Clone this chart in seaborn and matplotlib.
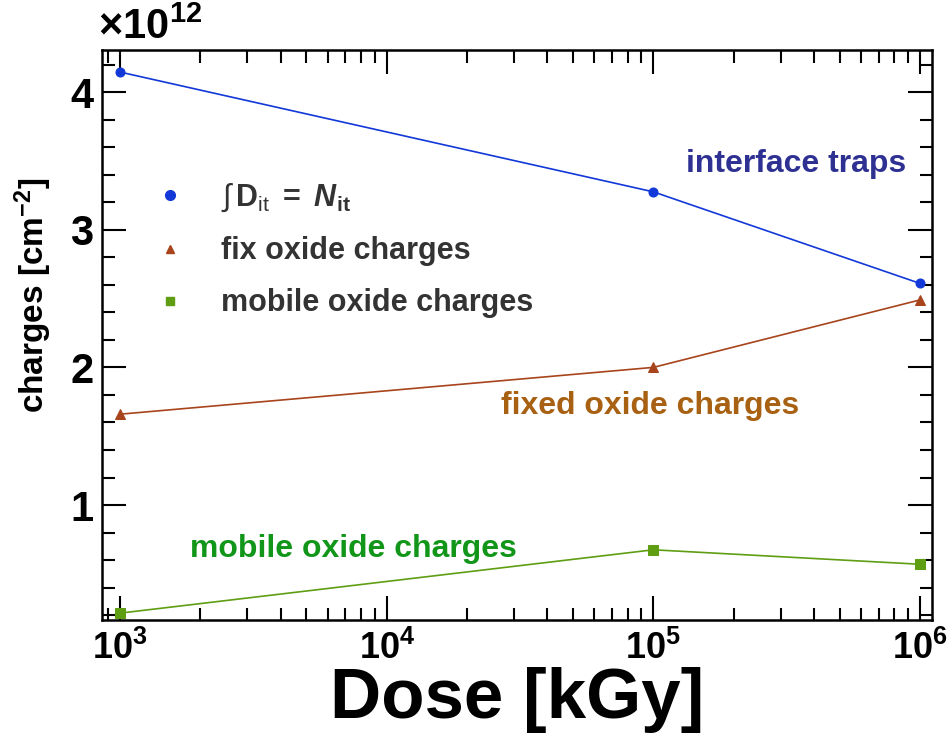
import numpy as np
import pandas as pd
import seaborn as sns
import matplotlib
matplotlib.use("Agg")
import matplotlib.pyplot as plt
from matplotlib.lines import Line2D
from matplotlib.ticker import FixedLocator, MultipleLocator, NullFormatter

# ---- data ----
dose = [1e3, 1e5, 1e6]
interface_traps = [4.145, 3.275, 2.61]
fixed_oxide = [1.66, 2.00, 2.49]
mobile_oxide = [0.215, 0.675, 0.57]

x_ticks = [1e3, 1e4, 1e5, 1e6]
x_tick_labels = [r"$\mathbf{10^{3}}$", r"$\mathbf{10^{4}}$", r"$\mathbf{10^{5}}$", r"$\mathbf{10^{6}}$"]
y_ticks = [1, 2, 3, 4]
y_tick_labels = ["1", "2", "3", "4"]

sns.set_theme(style="ticks")
plt.rcParams["font.family"] = ["Liberation Sans", "DejaVu Sans"]
plt.rcParams["mathtext.fontset"] = "custom"
plt.rcParams["mathtext.rm"] = "Liberation Sans"
plt.rcParams["mathtext.it"] = "Liberation Sans:italic"
plt.rcParams["mathtext.bf"] = "Liberation Sans:bold"
plt.rcParams["mathtext.bfit"] = "Liberation Sans:bold:italic"
plt.rcParams["text.color"] = "black"
plt.rcParams["axes.labelcolor"] = "black"
plt.rcParams["xtick.color"] = "black"
plt.rcParams["ytick.color"] = "black"

c_blue = "#1238d8"
c_brown = "#a8441c"
c_green = "#5f9e12"

fig = plt.figure(figsize=(9.48, 7.47), dpi=100)
ax = fig.add_axes([0.1076, 0.170, 0.8755, 0.763])

df = pd.DataFrame({
    "dose": dose * 3,
    "value": interface_traps + fixed_oxide + mobile_oxide,
    "series": ["it"] * 3 + ["fix"] * 3 + ["mob"] * 3,
})

specs = [("it", c_blue, "o", 6.5), ("fix", c_brown, "^", 6.5), ("mob", c_green, "s", 6.5)]
for key, col, mk, ms in specs:
    sub = df[df["series"] == key]
    sns.lineplot(data=sub, x="dose", y="value", ax=ax, color=col, marker=mk,
                 markersize=ms, markeredgecolor=col, linewidth=1.2, legend=False)

ax.set_xscale("log")
ax.set_xlim(10 ** 2.932, 10 ** 6.045)
ax.set_ylim(0.165, 4.305)

ax.set_xticks(x_ticks)
ax.set_xticklabels(x_tick_labels)
ax.xaxis.set_minor_locator(FixedLocator([m * 10 ** k for k in range(2, 7) for m in range(2, 10)]))
ax.xaxis.set_minor_formatter(NullFormatter())
ax.set_yticks(y_ticks)
ax.set_yticklabels(y_tick_labels)
ax.yaxis.set_minor_locator(MultipleLocator(0.2))

ax.tick_params(axis="both", which="major", direction="in", length=17, width=1.5,
               top=True, right=True)
ax.tick_params(axis="both", which="minor", direction="in", length=9, width=1.5,
               top=True, right=True)
ax.tick_params(axis="x", which="major", labelsize=26, pad=8)
ax.tick_params(axis="y", which="major", labelsize=30, pad=6)
for lab in ax.get_yticklabels():
    lab.set_fontweight("bold")
for s in ax.spines.values():
    s.set_linewidth(1.8)
    s.set_color("black")

ax.set_xlabel("Dose [kGy]", fontsize=51, fontweight="bold", labelpad=0)
ax.set_ylabel(r"charges [cm$^{\mathbf{-2}}$]", fontsize=24, fontweight="bold")
ax.yaxis.set_label_coords(-0.058, 0.57)

ax.text(-0.005, 1.003, r"$\mathbf{\times 10^{12}}$", transform=ax.transAxes,
        fontsize=30, ha="left", va="bottom")

# legend (markers only)
handles = [
    Line2D([], [], linestyle="none", marker="o", color=c_blue, markersize=7),
    Line2D([], [], linestyle="none", marker="^", color=c_brown, markersize=6),
    Line2D([], [], linestyle="none", marker="s", color=c_green, markersize=6),
]
labels = [
    r"$\int\,$D$_{\mathrm{it}}$ $\mathbf{=}$ $\mathbfit{N}_{\mathbf{it}}$",
    "fix oxide charges",
    "mobile oxide charges",
]
leg = ax.legend(handles, labels, loc="upper left", bbox_to_anchor=(0.049, 0.79),
                frameon=False, fontsize=22, handlelength=1.0, handletextpad=1.15,
                labelspacing=0.72, borderaxespad=0)
for t in leg.get_texts():
    t.set_color("#333333")
    t.set_fontweight("bold")

ax.text(0.969, 0.80, "interface traps", transform=ax.transAxes, color="#2e3192",
        fontsize=23, fontweight="bold", ha="right", va="center")
ax.text(0.840, 0.375, "fixed oxide charges", transform=ax.transAxes, color="#a86012",
        fontsize=23, fontweight="bold", ha="right", va="center")
ax.text(0.106, 0.125, "mobile oxide charges", transform=ax.transAxes, color="#12961a",
        fontsize=23, fontweight="bold", ha="left", va="center")

fig.savefig("out.png", dpi=100)
